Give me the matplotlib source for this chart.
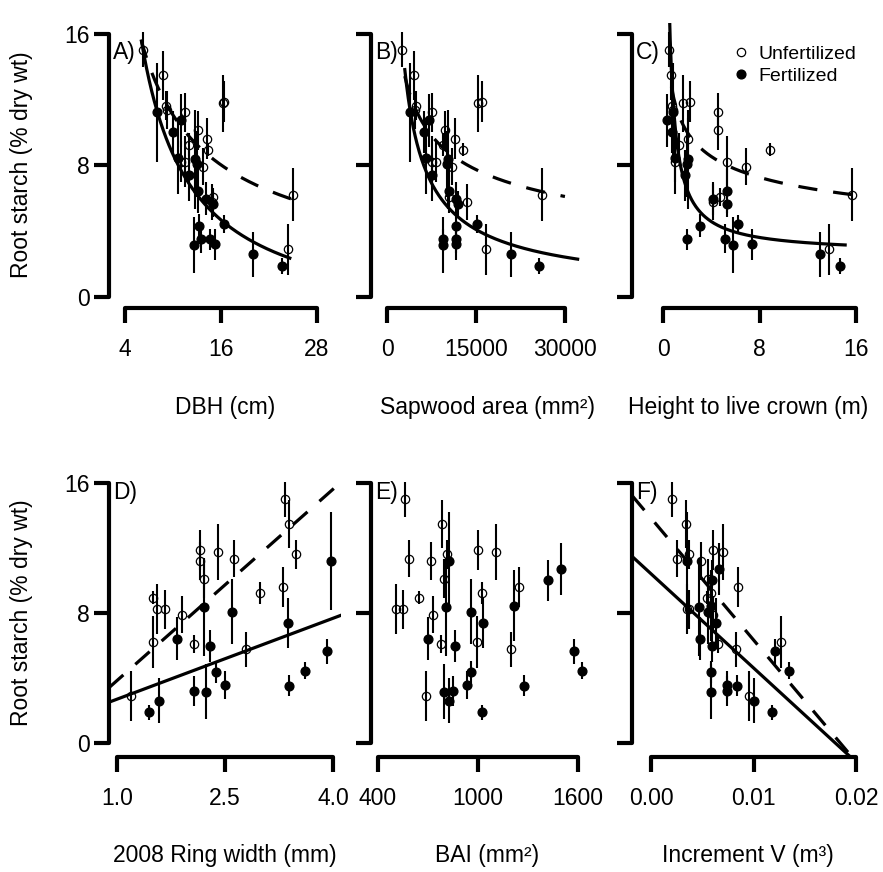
import numpy as np
import matplotlib
matplotlib.use("Agg")
from matplotlib import pyplot as plt
from matplotlib.lines import Line2D

plt.rcParams['font.family'] = ['Liberation Sans', 'DejaVu Sans']

# root starch (% dry wt) and its SE, one value per tree
starch_u = [15.02, 13.48, 11.88, 11.77, 11.63, 11.36, 11.22, 10.13, 9.62,
            9.25, 8.96, 8.23, 8.23, 7.92, 6.24, 6.09, 5.78, 2.91]
se_u = [1.07, 1.48, 1.23, 1.74, 0.90, 1.13, 1.17, 1.20, 1.23,
        0.70, 0.40, 1.54, 1.23, 1.13, 1.60, 0.55, 1.07, 1.54]
starch_f = [11.22, 10.73, 10.03, 8.47, 8.39, 8.08, 7.41, 6.44, 5.99,
            5.66, 4.45, 4.35, 3.57, 3.53, 3.22, 3.16, 2.61, 1.89]
se_f = [3.0, 1.6, 1.25, 2.2, 3.0, 2.0, 1.55, 1.33, 0.98,
        0.77, 0.53, 0.68, 0.87, 0.65, 0.92, 1.7, 1.38, 0.48]

# predictors
dbh_u = [6.29, 8.79, 16.4, 16.3, 9.08, 9.2, 11.5, 13.08, 14.3,
         12.04, 14.4, 11.5, 11.0, 13.8, 24.96, 15.04, 14.9, 24.4]
dbh_f = [7.96, 11.0, 9.96, 10.58, 12.8, 12.96, 12.04, 13.08, 14.1,
         14.96, 16.38, 13.25, 13.5, 14.6, 15.25, 12.67, 19.96, 23.66]
sap_u = [2580, 4605, 16060, 15280, 4830, 4700, 7525, 9770, 11460,
         9490, 12750, 7525, 8255, 10900, 26060, 10500, 13530, 16680]
sap_f = [3875, 7080, 6235, 6520, 10300, 10160, 7640, 10450, 11630,
         12020, 15110, 11630, 11630, 9490, 11630, 9490, 20840, 25670]
hlc_u = [0.53, 0.66, 2.24, 1.69, 0.77, 0.8, 4.53, 4.53, 2.1,
         1.35, 8.87, 5.28, 1.0, 6.86, 15.7, 4.73, 4.17, 13.8]
hlc_f = [0.8, 0.3, 0.72, 1.0, 2.1, 2.0, 1.82, 5.28, 4.12,
         5.28, 6.25, 3.07, 5.14, 1.96, 7.41, 5.83, 13.0, 14.7]
rw_u = [3.34, 3.39, 2.15, 2.4, 3.49, 2.63, 2.15, 2.21, 3.3,
        2.99, 1.5, 1.56, 1.66, 1.9, 1.5, 2.07, 2.79, 1.19]
rw_f = [3.97, np.nan, np.nan, np.nan, 2.21, 2.6, 3.38, 1.84, 2.29,
        3.91, 3.61, 2.38, 2.5, 3.39, 2.07, 2.23, 1.59, 1.44]
bai_u = [562, 782, 998, 1106, 812, 588, 718, 796, 1246,
         1026, 648, 508, 548, 732, 992, 778, 1196, 688]
bai_f = [828, 1496, 1418, 1216, 808, 960, 1028, 702, 864,
         1578, 1624, 960, 936, 1274, 852, 796, 828, 1022]
incv_u = [0.00208, 0.00338, 0.00608, 0.00706, 0.00374, 0.0025, 0.00488, 0.0056, 0.00845,
          0.00582, 0.0055, 0.00348, 0.00374, 0.00602, 0.01268, 0.0065, 0.00829, 0.00959]
incv_f = [0.00354, 0.00663, 0.00592, 0.0059, 0.00472, 0.0056, 0.00634, 0.00478, 0.00592,
          0.0121, 0.0135, 0.00582, 0.00738, 0.00836, 0.00738, 0.00582, 0.01005, 0.01183]

# fitted curves y = a + b * x**c  (a, b, c, xmin, xmax)
curve_u = {'A': (0, 52.8, -0.679, 6.0, 26.1), 'B': (0, 205.8, -0.341, 3000, 29990),
           'C': (0, 11.77, -0.231, 0.7, 15.78)}
curve_f = {'A': (-1.92, 105.9, -1, 6.1, 24.6), 'B': (0, 5690, -0.752, 3000, 32130),
           'C': (2.67, 7.73, -1, 0.3, 15.1)}
# straight fits y = a + b*x over the whole panel
line_u = {'D': (-0.08, 3.93), 'F': (13.86, -750.5)}
line_f = {'D': (1.04, 1.662), 'F': (10.43, -580.0)}

W, H = 883, 872
fig = plt.figure(figsize=(W / 100, H / 100), dpi=100)

# panel: key, x data, xticks, tick pixel positions, plot left px, row, xlabel
panels = [
    ('A', dbh_u, dbh_f, [4, 16, 28], ['4', '16', '28'], (125, 317), 109, 0, 'DBH (cm)'),
    ('B', sap_u, sap_f, [0, 15000, 30000], ['0', '15000', '30000'], (387, 565), 371, 0,
     'Sapwood area (mm²)'),
    ('C', hlc_u, hlc_f, [0, 8, 16], ['0', '8', '16'], (663, 856), 632, 0,
     'Height to live crown (m)'),
    ('D', rw_u, rw_f, [1.0, 2.5, 4.0], ['1.0', '2.5', '4.0'], (117, 333), 109, 1,
     '2008 Ring width (mm)'),
    ('E', bai_u, bai_f, [400, 1000, 1600], ['400', '1000', '1600'], (378, 578), 371, 1,
     'BAI (mm²)'),
    ('F', incv_u, incv_f, [0, 0.01, 0.02], ['0.00', '0.01', '0.02'], (651, 856), 632, 1,
     'Increment V (m³)'),
]
rows = [(23, 308, -0.64, 16.64), (473, 757, -0.86, 16.64)]
pw = 232
fs = 16.5

for key, xu, xf, ticks, tlabels, (p1, p2), left, row, xlab in panels:
    top, bot, ylo, yhi = rows[row]
    ax = fig.add_axes([left / W, 1 - bot / H, pw / W, (bot - top) / H])
    s = (p2 - p1) / (ticks[-1] - ticks[0])
    xlo = ticks[0] - (p1 - left) / s
    xhi = ticks[0] + (left + pw - p1) / s
    ax.set_xlim(xlo, xhi)
    ax.set_ylim(ylo, yhi)

    ax.vlines(xu, np.array(starch_u) - se_u, np.array(starch_u) + se_u, color='black', lw=1.5)
    ax.vlines(xf, np.array(starch_f) - se_f, np.array(starch_f) + se_f, color='black', lw=1.5)
    ax.plot(xu, starch_u, 'o', mfc='none', mec='black', ms=6, mew=0.9)
    ax.plot(xf, starch_f, 'o', color='black', ms=6.3)

    if key in curve_u:
        for prm, ls in ((curve_u[key], (0, (6, 5))), (curve_f[key], '-')):
            a, b, c, x0, x1 = prm
            xx = np.linspace(x0, x1, 300)
            ax.plot(xx, a + b * xx ** c, color='black', lw=2.3, ls=ls)
    if key in line_u:
        xx = np.array([xlo, xhi])
        a, b = line_u[key]
        ax.plot(xx, a + b * xx, color='black', lw=2.3, ls=(0, (6, 5)))
        a, b = line_f[key]
        ax.plot(xx, a + b * xx, color='black', lw=2.3)

    for sp in ('top', 'right'):
        ax.spines[sp].set_visible(False)
    ax.spines['left'].set_bounds(0, 16)
    ax.spines['bottom'].set_bounds(ticks[0], ticks[-1])
    for sp in ('left', 'bottom'):
        ax.spines[sp].set_linewidth(3)
        ax.spines[sp].set_capstyle('round')
    ax.set_xticks(ticks)
    ax.set_xticklabels(tlabels)
    ax.set_yticks([0, 8, 16])
    ax.tick_params(length=10.5, width=3, labelsize=fs, pad=11)
    if left > 200:
        ax.set_yticklabels([])
    else:
        ax.set_yticklabels(['0', '8', '16'])
        ax.tick_params(axis='y', pad=3)

    lab_y = 52 if row == 0 else 492
    fig.text((left + 4) / W, 1 - lab_y / H, key + ')', fontsize=fs, va='center', ha='left')
    xlab_y = 407 if row == 0 else 855
    fig.text((left + pw / 2) / W, 1 - xlab_y / H, xlab, fontsize=fs, ha='center', va='center')

    if key == 'C':
        handles = [Line2D([], [], ls='none', marker='o', mfc='none', mec='black', ms=6, mew=0.9),
                   Line2D([], [], ls='none', marker='o', color='black', ms=6.3)]
        fig.legend(handles, ['Unfertilized', 'Fertilized'], loc='upper left',
                   bbox_to_anchor=(733 / W, 1 - 45 / H), frameon=False, fontsize=14,
                   handlelength=0.8, handletextpad=0.5, labelspacing=0.25,
                   borderpad=0, borderaxespad=0)

for yc in (165, 613):
    fig.text(22 / W, 1 - yc / H, 'Root starch (% dry wt)', fontsize=fs, rotation=90,
             ha='center', va='center')

fig.savefig('out.png', dpi=100)
